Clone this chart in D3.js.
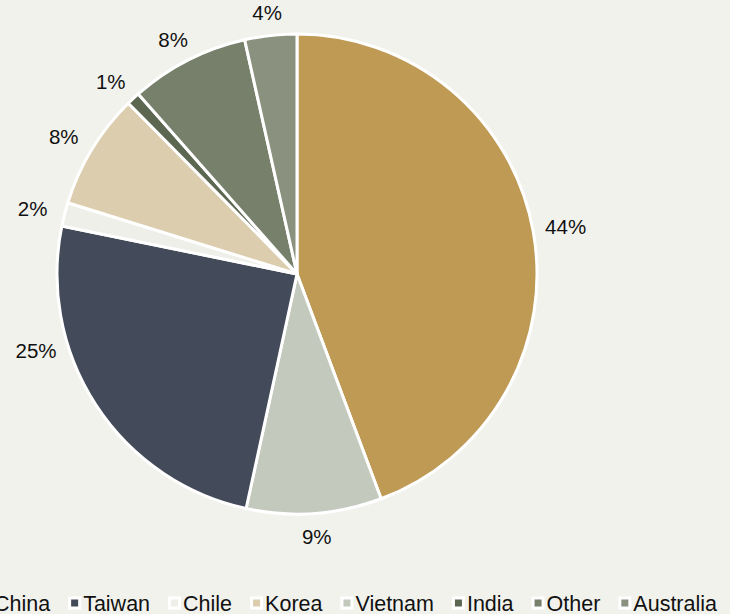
<!DOCTYPE html>
<html><head><meta charset="utf-8">
<script src="https://cdn.jsdelivr.net/npm/d3@7"></script>
<style>
html,body{margin:0;padding:0;background:#F2F2ED;overflow:hidden}
svg{display:block}
text{font-family:"Liberation Sans",Arial,sans-serif;fill:#111}
</style></head>
<body>
<svg id="chart" width="730" height="614"></svg>
<script>
// Pie slices (clockwise from 12 o'clock)
const sliceNames = ["China","Vietnam","Taiwan","Chile","Korea","India","Other","Australia"];
const sliceValues = [44.3, 9.1, 24.8, 1.6, 7.8, 0.9, 8.0, 3.5];
const sliceLabels = ["44%","9%","25%","2%","8%","1%","8%","4%"];
const sliceColors = ["#BE9A55","#C4C9BE","#434A59","#EFEFEA","#DCCDAE","#5B6751","#76806A","#8A917F"];
// Legend order
const legendNames = ["China","Taiwan","Chile","Korea","Vietnam","India","Other","Australia"];

const svg = d3.select("#chart");
const W = 730, H = 614;
svg.append("rect").attr("width",W).attr("height",H).attr("fill","#F2F2ED");

const cx = 297, cy = 274, r = 240;
const colorOf = d3.scaleOrdinal().domain(sliceNames).range(sliceColors);

const pie = d3.pie().sort(null).value(d => d.v);
const data = sliceNames.map((n,i) => ({n, v: sliceValues[i], l: sliceLabels[i]}));
const arcs = pie(data);
const arc = d3.arc().innerRadius(0).outerRadius(r);

const g = svg.append("g").attr("transform", `translate(${cx},${cy})`);
g.selectAll("path").data(arcs).join("path")
  .attr("d", arc)
  .attr("fill", d => colorOf(d.data.n))
  .attr("stroke", "#FFFFFF")
  .attr("stroke-width", 3)
  .attr("stroke-linejoin", "round");

// label placement: outside end, box-aware; Taiwan's label was moved lower in the original
const labelGap = 13, halfW = 20, halfH = 10;
const angleShift = {Taiwan: 0.28};
function labelPos(d){
  const a = (d.startAngle + d.endAngle)/2 + (angleShift[d.data.n] || 0);
  const dx = Math.sin(a), dy = -Math.cos(a);
  return [(r + labelGap)*dx + halfW*dx, (r + labelGap)*dy + halfH*dy];
}
g.selectAll("text.lbl").data(arcs).join("text")
  .attr("class","lbl")
  .attr("transform", d => `translate(${labelPos(d)})`)
  .attr("text-anchor","middle")
  .attr("dy","0.35em")
  .style("font-size","20.5px")
  .text(d => d.data.l);

// Legend
const lg = svg.append("g");
const items = lg.selectAll("g").data(legendNames).join("g");
items.append("rect").attr("x",0).attr("y",-6.5).attr("width",13).attr("height",13).attr("fill","#FFFFFF");
items.append("rect").attr("x",3).attr("y",-3.5).attr("width",7).attr("height",7).attr("fill", d => colorOf(d));
items.append("text").attr("x",15).attr("dy","0.36em").style("font-size","21.5px").text(d => d);
const gap = 18;
let x = 0; const pos = [];
items.each(function(){ pos.push(x); const w = this.querySelector("text").getComputedTextLength(); x += 15 + w + gap; });
const total = x - gap;
const startX = 717 - total;
items.attr("transform", (d,i) => `translate(${startX + pos[i]},603)`);
</script>
</body></html>
